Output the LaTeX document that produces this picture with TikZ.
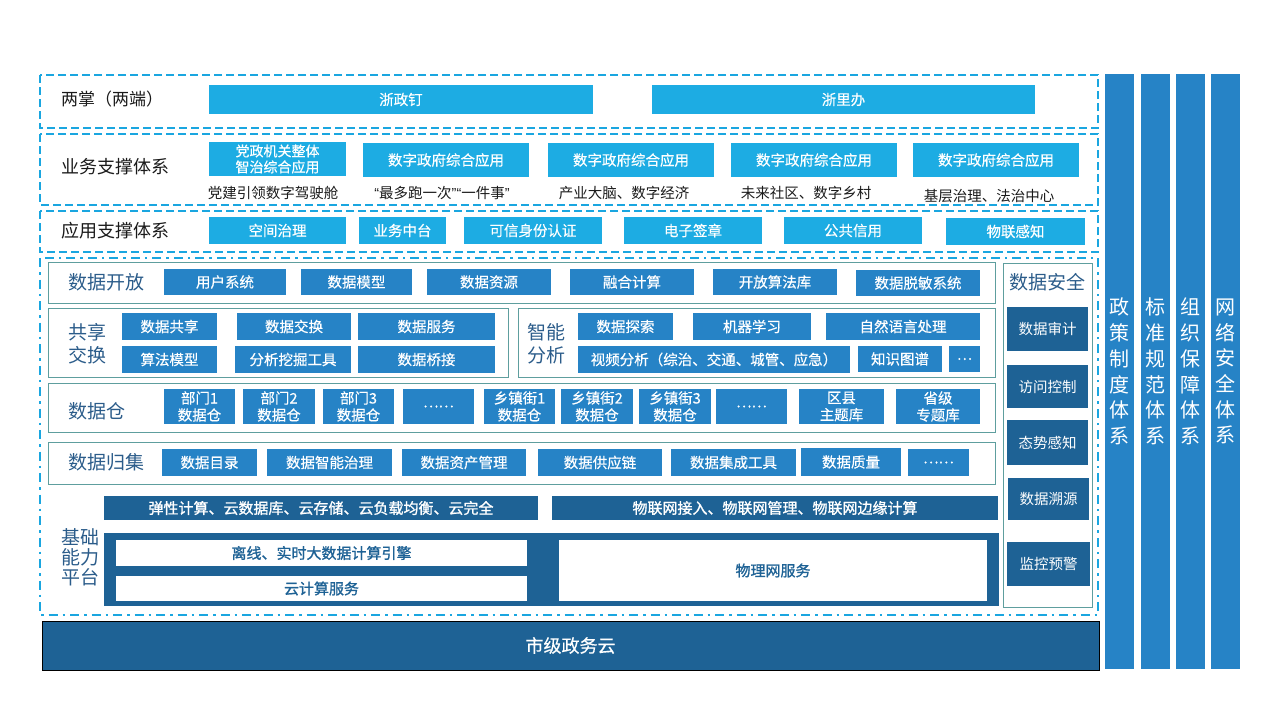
\documentclass[tikz,border=0pt]{standalone}
\usepackage{fontspec}
\setmainfont{Noto Sans CJK SC}
\newfontfamily\grasfont{Noto Sans CJK SC}[FakeBold=0.4]
\newfontfamily\tresgras{Noto Sans CJK SC}[FakeBold=1.2]
\newfontfamily\guill{Liberation Sans}
\usepackage{xcolor}
\definecolor{bleuclair}{HTML}{1DACE3}
\definecolor{bleumoyen}{HTML}{2683C6}
\definecolor{bleufonce}{HTML}{1E6295}
\definecolor{tirets}{HTML}{1AA6E0}
\definecolor{vertgris}{HTML}{5E9E9E}
\definecolor{encre}{HTML}{2B5C8A}
\definecolor{noir}{HTML}{1A1A1A}

\begin{document}
\begin{tikzpicture}[x=1pt,y=-1pt]

		\useasboundingbox (0,0) rectangle (1280,720);
		\tikzset{cadre/.style={draw=tirets, line width=2.2pt, dash pattern=on 8pt off 4pt}}
		\tikzset{grandcadre/.style={draw=tirets, line width=2.2pt, dash pattern=on 9pt off 5pt on 2.5pt off 5pt}}
		\tikzset{bloc/.style={draw=vertgris, line width=1pt}}
		\tikzset{boite/.style={inner sep=0pt, text=white, align=center, font=\grasfont\fontsize{14.5}{17}\selectfont}}
		\tikzset{clair/.style={boite, fill=bleuclair}}
		\tikzset{moyen/.style={boite, fill=bleumoyen}}
		\tikzset{fonce/.style={boite, fill=bleufonce}}
		\tikzset{blanc/.style={boite, fill=white, text=bleufonce, font=\tresgras\fontsize{15}{18}\selectfont}}
		\tikzset{titre/.style={anchor=west, inner sep=0pt, text=noir, align=left, font=\fontsize{18}{22}\selectfont}}
		\tikzset{couche/.style={titre, text=encre, font=\fontsize{19}{23}\selectfont}}
		\tikzset{legende/.style={inner sep=0pt, text=noir, font=\fontsize{14.5}{17}\selectfont}}
		\tikzset{colonne/.style={boite, fill=bleumoyen, minimum width=29, minimum height=595, font=\fontsize{20}{25.7}\selectfont}}

		% cadres
		\draw[cadre] (40,75) rectangle (1098,128);
		\draw[cadre] (40,134) rectangle (1098,205);
		\draw[cadre] (40,211) rectangle (1098,252);
		\draw[grandcadre] (40,258) rectangle (1098,615);
		\draw[bloc] (48,262) rectangle (995,303);
		\draw[bloc] (48,308) rectangle (508,377);
		\draw[bloc] (518,308) rectangle (995,377);
		\draw[bloc] (48,383) rectangle (995,432);
		\draw[bloc] (48,442) rectangle (995,484);
		\draw[bloc] (1003,263) rectangle (1092,607);

		% deux terminaux
		\node[titre, font=\fontsize{17}{20}\selectfont] (LZ) at (61,99) {两掌（两端）};
		\node[clair, minimum width=384, minimum height=29] (ZZD) at (401,99.5) {浙政钉};
		\node[clair, minimum width=383, minimum height=29] (ZLB) at (843.5,99.5) {浙里办};

		% soutien metier
		\node[titre] (YW) at (61,167) {业务支撑体系};
		\node[clair, minimum width=137, minimum height=34, font=\grasfont\fontsize{14}{16}\selectfont] (DZ) at (277.5,159) {党政机关整体\\智治综合应用};
		\node[clair, minimum width=166, minimum height=34] (SZ1) at (446,160) {数字政府综合应用};
		\node[clair, minimum width=166, minimum height=34] (SZ2) at (631,160) {数字政府综合应用};
		\node[clair, minimum width=166, minimum height=34] (SZ3) at (814,160) {数字政府综合应用};
		\node[clair, minimum width=166, minimum height=34] (SZ4) at (996,160) {数字政府综合应用};
		\node[legende] (L1) at (273,193) {党建引领数字驾驶舱};
		\node[legende] (L2) at (442,193) {{\guill “}最多跑一次{\guill ”“}一件事{\guill ”}};
		\node[legende] (L3) at (624,193) {产业大脑、数字经济};
		\node[legende] (L4) at (806,193) {未来社区、数字乡村};
		\node[legende] (L5) at (989,196) {基层治理、法治中心};

		% soutien applicatif
		\node[titre] (YY) at (61,231) {应用支撑体系};
		\node[clair, minimum width=137, minimum height=27] (KJ) at (277.5,230.5) {空间治理};
		\node[clair, minimum width=87, minimum height=27] (ZT) at (402.5,230.5) {业务中台};
		\node[clair, minimum width=138, minimum height=27] (SF) at (533,230.5) {可信身份认证};
		\node[clair, minimum width=138, minimum height=27] (QZ) at (693,230.5) {电子签章};
		\node[clair, minimum width=138, minimum height=27] (XY) at (853,230.5) {公共信用};
		\node[clair, minimum width=139, minimum height=27] (WL) at (1015.5,231.5) {物联感知};

		% ouverture
		\node[couche] (KF) at (68,282) {数据开放};
		\node[moyen, minimum width=122, minimum height=26] (K1) at (225,282) {用户系统};
		\node[moyen, minimum width=111, minimum height=26] (K2) at (356.5,282) {数据模型};
		\node[moyen, minimum width=124, minimum height=26] (K3) at (489,282) {数据资源};
		\node[moyen, minimum width=124, minimum height=26] (K4) at (632,282) {融合计算};
		\node[moyen, minimum width=124, minimum height=26] (K5) at (775,282) {开放算法库};
		\node[moyen, minimum width=124, minimum height=26] (K6) at (918,283) {数据脱敏系统};

		% partage
		\node[couche] (GX) at (68,343.5) {共享\\交换};
		\node[moyen, minimum width=95, minimum height=27] (G1) at (169.5,326.5) {数据共享};
		\node[moyen, minimum width=114, minimum height=27] (G2) at (294,326.5) {数据交换};
		\node[moyen, minimum width=137, minimum height=27] (G3) at (426.5,326.5) {数据服务};
		\node[moyen, minimum width=95, minimum height=27] (G4) at (169.5,359.5) {算法模型};
		\node[moyen, minimum width=116, minimum height=27] (G5) at (293,359.5) {分析挖掘工具};
		\node[moyen, minimum width=137, minimum height=27] (G6) at (426.5,359.5) {数据桥接};

		% analyse
		\node[couche] (ZN) at (527,343.5) {智能\\分析};
		\node[moyen, minimum width=95, minimum height=27] (A1) at (625.5,326.5) {数据探索};
		\node[moyen, minimum width=118, minimum height=27] (A2) at (752,326.5) {机器学习};
		\node[moyen, minimum width=154, minimum height=27] (A3) at (903,326.5) {自然语言处理};
		\node[moyen, minimum width=272, minimum height=27] (A4) at (714,359.5) {视频分析（综治、交通、城管、应急）};
		\node[moyen, minimum width=84, minimum height=26] (A5) at (900,359) {知识图谱};
		\node[moyen, minimum width=31, minimum height=26] (A6) at (964.5,359) {…};

		% entrepots
		\node[couche] (CK) at (68,411) {数据仓};
		\node[moyen, minimum width=71, minimum height=35] (C1) at (199.5,406.5) {部门1\\数据仓};
		\node[moyen, minimum width=72, minimum height=35] (C2) at (279,406.5) {部门2\\数据仓};
		\node[moyen, minimum width=71, minimum height=35] (C3) at (358.5,406.5) {部门3\\数据仓};
		\node[moyen, minimum width=71, minimum height=35] (C4) at (438.5,406.5) {……};
		\node[moyen, minimum width=71, minimum height=35] (C5) at (519.5,406.5) {乡镇街1\\数据仓};
		\node[moyen, minimum width=72, minimum height=35] (C6) at (597,406.5) {乡镇街2\\数据仓};
		\node[moyen, minimum width=72, minimum height=35] (C7) at (675,406.5) {乡镇街3\\数据仓};
		\node[moyen, minimum width=71, minimum height=35] (C8) at (751.5,406.5) {……};
		\node[moyen, minimum width=85, minimum height=35] (C9) at (841.5,406.5) {区县\\主题库};
		\node[moyen, minimum width=84, minimum height=35] (C10) at (938,406.5) {省级\\专题库};

		% collecte
		\node[couche] (GJ) at (68,462) {数据归集};
		\node[moyen, minimum width=95, minimum height=27] (J1) at (209.5,462.5) {数据目录};
		\node[moyen, minimum width=125, minimum height=27] (J2) at (329.5,462.5) {数据智能治理};
		\node[moyen, minimum width=124, minimum height=27] (J3) at (464,462.5) {数据资产管理};
		\node[moyen, minimum width=124, minimum height=27] (J4) at (600,462.5) {数据供应链};
		\node[moyen, minimum width=125, minimum height=27] (J5) at (733.5,462.5) {数据集成工具};
		\node[moyen, minimum width=100, minimum height=28] (J6) at (851,462) {数据质量};
		\node[moyen, minimum width=61, minimum height=27] (J7) at (938.5,462.5) {……};

		% plateforme de base
		\node[couche, anchor=center, align=center, font=\fontsize{19}{20}\selectfont] (JC) at (80,557) {基础\\能力\\平台};
		\node[fonce, minimum width=434, minimum height=24, font=\tresgras\fontsize{15}{18}\selectfont] (P1) at (321,508) {弹性计算、云数据库、云存储、云负载均衡、云完全};
		\node[fonce, minimum width=446, minimum height=24, font=\tresgras\fontsize{15}{18}\selectfont] (P2) at (775,508) {物联网接入、物联网管理、物联网边缘计算};
		\node[fonce, minimum width=895, minimum height=73] (PF) at (551.5,569.5) {};
		\node[blanc, minimum width=411, minimum height=26] (B1) at (321.5,553) {离线、实时大数据计算引擎};
		\node[blanc, minimum width=411, minimum height=25] (B2) at (321.5,588.5) {云计算服务};
		\node[blanc, minimum width=428, minimum height=61] (B3) at (773,570.5) {物理网服务};

		% securite
		\node[couche, anchor=center] (AQ) at (1047.5,282) {数据安全};
		\node[fonce, minimum width=81, minimum height=44, font=\fontsize{14.5}{17}\selectfont] (S1) at (1047.5,329) {数据审计};
		\node[fonce, minimum width=81, minimum height=43, font=\fontsize{14.5}{17}\selectfont] (S2) at (1047.5,386.5) {访问控制};
		\node[fonce, minimum width=81, minimum height=45, font=\fontsize{14.5}{17}\selectfont] (S3) at (1047.5,442.5) {态势感知};
		\node[fonce, minimum width=81, minimum height=42, font=\fontsize{14.5}{17}\selectfont] (S4) at (1048.5,499) {数据溯源};
		\node[fonce, minimum width=83, minimum height=44, font=\fontsize{14.5}{17}\selectfont] (S5) at (1048.5,564) {监控预警};

		% nuage
		\node[fonce, draw=black, line width=1pt, minimum width=1057, minimum height=49, font=\grasfont\fontsize{18}{21}\selectfont] (YUN) at (570.5,645.5) {市级政务云};

		% colonnes
		\node[colonne] (ZC) at (1119.5,371.5) {政\\策\\制\\度\\体\\系};
		\node[colonne] (BZ) at (1155.5,371.5) {标\\准\\规\\范\\体\\系};
		\node[colonne] (ZZ) at (1190.5,371.5) {组\\织\\保\\障\\体\\系};
		\node[colonne] (WA) at (1225.5,371.5) {网\\络\\安\\全\\体\\系};

		\end{tikzpicture}
\end{document}
